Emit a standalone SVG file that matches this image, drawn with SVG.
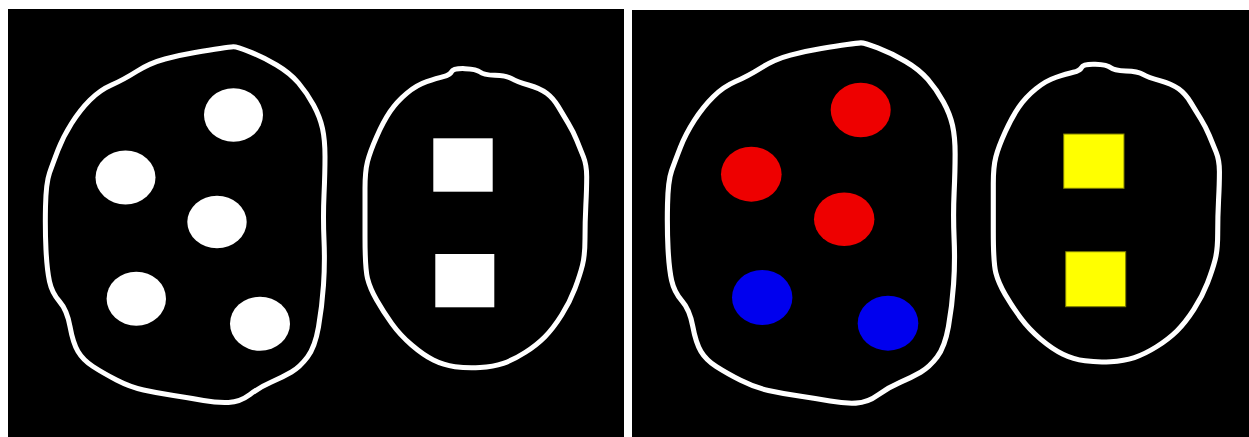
<svg xmlns="http://www.w3.org/2000/svg" width="1249" height="437" viewBox="0 0 1249 437">
<defs>
<style>
.panel{fill:#000}
.outline{fill:none;stroke:#fff;stroke-width:5;stroke-linejoin:round;stroke-linecap:round}
.wdot{fill:#fff}
.red{fill:#ee0000}
.blue{fill:#0000ee}
.wsq{fill:#fff}
.ysq{fill:#ffff00;stroke:#7a7a00;stroke-width:1}
</style>
<path id="blob" d="M233.35,46.85 Q236.7,46.7 249.85,51.85 Q263,57 276.5,65 Q290,73 298.5,83 Q307,93 313.5,105 Q320,117 322.5,128.5 Q325,140 325,156.5 Q325,173 324,195 Q323,217 324,240 Q325,263 323.5,285 Q322,307 318.5,327 Q315,347 307.5,357 Q300,367 291.5,372 Q283,377 271.5,382 Q260,387 250,394.5 Q240,402 228.5,402.5 Q217,403 203.5,400.5 Q190,398 173.5,395.5 Q157,393 143.5,390 Q130,387 116.5,380 Q103,373 93,366.5 Q83,360 78,351.5 Q73,343 70,326.5 Q67,310 59.5,301.5 Q52,293 49.5,281.5 Q47,270 46,250 Q45,230 45.5,206.5 Q46,183 49.5,173 Q53,163 58,150 Q63,137 71.5,123.5 Q80,110 90,100 Q100,90 111.5,85 Q123,80 136.5,71.5 Q150,63 165,59 Q180,55 195,52.5 Q210,50 220,48.5 Q230,47 233.35,46.85 Z"/>
<path id="oval" d="M451.65,71.65 Q453.3,68.3 465,68.65 Q476.7,69 480,72 Q483.3,75 495,75.35 Q506.7,75.7 511.7,78.7 Q516.7,81.7 528.35,85 Q540,88.3 546.65,93.3 Q553.3,98.3 558.3,106.65 Q563.3,115 568.3,123.35 Q573.3,131.7 576.65,140 Q580,148.3 583.35,156.65 Q586.7,165 586.7,176.65 Q586.7,188.3 585.85,205 Q585,221.7 585,238.35 Q585,255 582.5,265 Q580,275 575,288.35 Q570,301.7 561.65,315 Q553.3,328.3 545,336.65 Q536.7,345 525,352.5 Q513.3,360 503.3,363.35 Q493.3,366.7 480,367.5 Q466.7,368.3 455,366.65 Q443.3,365 433.3,360 Q423.3,355 411.65,345 Q400,335 391.65,323.35 Q383.3,311.7 376.65,300 Q370,288.3 367.5,278.3 Q365,268.3 365,236.65 Q365,205 365,188.35 Q365,171.7 367.5,161.7 Q370,151.7 376.65,136.7 Q383.3,121.7 390,111.7 Q396.7,101.7 406.7,93.35 Q416.7,85 426.7,81.65 Q436.7,78.3 443.35,76.65 Q450,75 451.65,71.65 Z"/>
</defs>
<rect x="0" y="0" width="1249" height="437" fill="#fff"/>
<g id="panel-left">
<rect class="panel" x="8" y="9" width="616" height="428"/>
<g id="left-blob">
<use href="#blob" class="outline"/>
<ellipse class="wdot" cx="233.5" cy="115" rx="29.5" ry="26.7"/>
<ellipse class="wdot" cx="125.5" cy="177.5" rx="30" ry="27"/>
<ellipse class="wdot" cx="217" cy="222" rx="29.7" ry="26.3"/>
<ellipse class="wdot" cx="136.3" cy="298.7" rx="29.7" ry="27"/>
<ellipse class="wdot" cx="260" cy="323.7" rx="30" ry="27"/>
</g>
<g id="left-oval">
<use href="#oval" class="outline"/>
<rect class="wsq" x="433.3" y="138.3" width="59.4" height="53.4"/>
<rect class="wsq" x="435.3" y="254" width="59" height="53.3"/>
</g>
</g>
<g id="panel-right">
<rect class="panel" x="632" y="10" width="617" height="427"/>
<g id="right-blob">
<use href="#blob" class="outline" transform="matrix(1.029,0,0,1.013,620.7,-4.6)"/>
<ellipse class="red" cx="860.7" cy="110" rx="30" ry="27.3"/>
<ellipse class="red" cx="751.3" cy="174.2" rx="30.3" ry="27.5"/>
<ellipse class="red" cx="844.2" cy="219.2" rx="30.2" ry="26.8"/>
<ellipse class="blue" cx="762.2" cy="297.5" rx="30.2" ry="27.5"/>
<ellipse class="blue" cx="888" cy="323.2" rx="30.3" ry="27.5"/>
</g>
<g id="right-oval">
<use href="#oval" class="outline" transform="matrix(1.02,0,0,0.995,621,-4)"/>
<rect class="ysq" x="1063.7" y="134" width="60.3" height="54.3"/>
<rect class="ysq" x="1065.7" y="251.7" width="60" height="55"/>
</g>
</g>
</svg>
